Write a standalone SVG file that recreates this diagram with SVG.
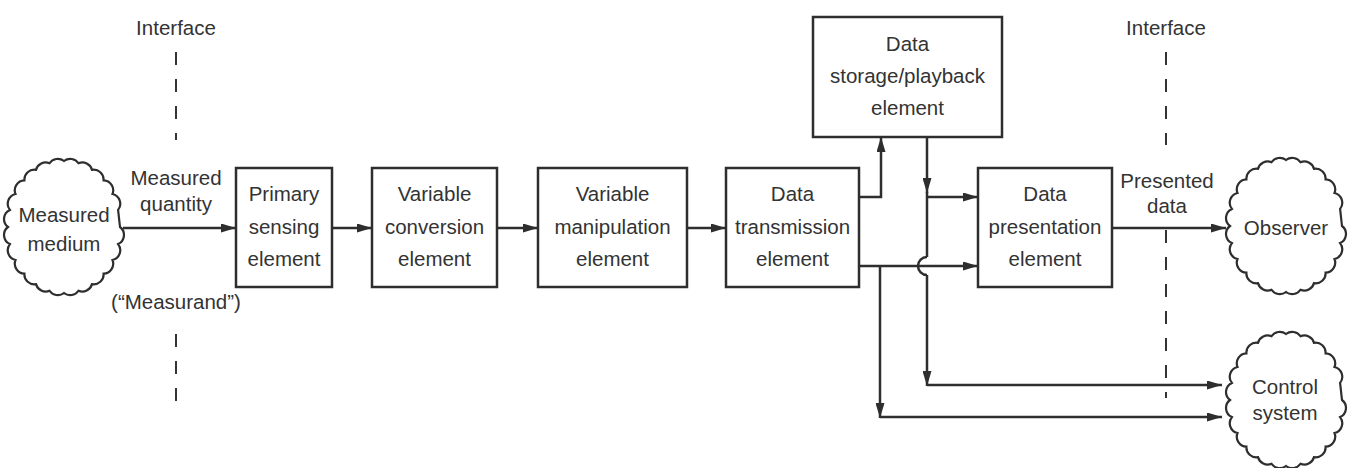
<svg xmlns="http://www.w3.org/2000/svg" xmlns:xlink="http://www.w3.org/1999/xlink" width="1353" height="468" viewBox="0 0 1353 468">
  <style>
    .box { fill: #ffffff; stroke: #2e2e2e; stroke-width: 2.5; }
    .cloud { fill: #ffffff; stroke: #2e2e2e; stroke-width: 2.2; }
    .lbl { font-family: "Liberation Sans", "DejaVu Sans", sans-serif; font-size: 20.5px; fill: #333333; text-anchor: middle; }
    .wire { fill: none; stroke: #2e2e2e; stroke-width: 2.5; }
    .arrow { fill: none; stroke: #2e2e2e; stroke-width: 2.5; marker-end: url(#head); }
    .iface { fill: none; stroke: #333333; stroke-width: 2; stroke-dasharray: 13 14; }
  </style>
  <defs>
    <marker id="head" viewBox="0 0 15 9" refX="15" refY="4.5" markerWidth="15" markerHeight="9" markerUnits="userSpaceOnUse" orient="auto">
      <path d="M0,0 L15,4.5 L0,9 Z" fill="#2e2e2e"/>
    </marker>
    <!-- scalloped outline around an ellipse, centred on the origin -->
    <path id="cloudShape" d="M56,0 A10,10 0 0 1 54.09,17.08 A10,10 0 0 1 48.5,33 A10,10 0 0 1 39.6,46.67 A10,10 0 0 1 28,57.16 A10,10 0 0 1 14.49,63.75 A10,10 0 0 1 0,66 A10,10 0 0 1 -14.49,63.75 A10,10 0 0 1 -28,57.16 A10,10 0 0 1 -39.6,46.67 A10,10 0 0 1 -48.5,33 A10,10 0 0 1 -54.09,17.08 A10,10 0 0 1 -56,0 A10,10 0 0 1 -54.09,-17.08 A10,10 0 0 1 -48.5,-33 A10,10 0 0 1 -39.6,-46.67 A10,10 0 0 1 -28,-57.16 A10,10 0 0 1 -14.49,-63.75 A10,10 0 0 1 0,-66 A10,10 0 0 1 14.49,-63.75 A10,10 0 0 1 28,-57.16 A10,10 0 0 1 39.6,-46.67 A10,10 0 0 1 48.5,-33 A10,10 0 0 1 54.09,-17.08 Z"/>
  </defs>

  <rect width="1353" height="468" fill="#ffffff"/>

  <!-- interface boundaries -->
  <g id="interfaces">
    <text class="lbl" x="176" y="35">Interface</text>
    <line class="iface" x1="176" y1="52" x2="176" y2="140"/>
    <line class="iface" x1="176" y1="334" x2="176" y2="410"/>
    <text class="lbl" x="1166" y="35">Interface</text>
    <line class="iface" x1="1166" y1="52" x2="1166" y2="145"/>
    <line class="iface" x1="1166" y1="230" x2="1166" y2="398"/>
  </g>

  <!-- connectors -->
  <g id="connectors">
    <line class="arrow" x1="123" y1="228" x2="236" y2="228"/>
    <line class="arrow" x1="332" y1="228" x2="372" y2="228"/>
    <line class="arrow" x1="497" y1="228" x2="538" y2="228"/>
    <line class="arrow" x1="687" y1="228" x2="726" y2="228"/>
    <!-- transmission to storage -->
    <polyline class="arrow" points="859,197 881,197 881,137"/>
    <!-- storage output -->
    <line class="arrow" x1="927" y1="137" x2="927" y2="193"/>
    <line class="wire" x1="927" y1="192" x2="927" y2="257"/>
    <line class="arrow" x1="927" y1="197" x2="978" y2="197"/>
    <path class="wire" d="M927,257 A9,9 0 0 0 927,275"/>
    <line class="arrow" x1="927" y1="275" x2="927" y2="386"/>
    <line class="arrow" x1="927" y1="385" x2="1222" y2="385"/>
    <!-- transmission direct outputs -->
    <line class="arrow" x1="859" y1="266" x2="978" y2="266"/>
    <line class="arrow" x1="880" y1="266" x2="880" y2="418"/>
    <line class="arrow" x1="880" y1="417" x2="1222" y2="417"/>
    <!-- presentation to observer -->
    <line class="arrow" x1="1112" y1="228" x2="1226" y2="228"/>
  </g>

  <g id="measured-medium">
    <use href="#cloudShape" class="cloud" transform="translate(64,227)"/>
    <text class="lbl" x="64" y="222">Measured</text>
    <text class="lbl" x="64" y="251">medium</text>
  </g>

  <g id="measured-quantity-label">
    <text class="lbl" x="176" y="185">Measured</text>
    <text class="lbl" x="176" y="211">quantity</text>
    <text class="lbl" x="176" y="309">(“Measurand”)</text>
  </g>

  <g id="primary-sensing">
    <rect class="box" x="236" y="168" width="96" height="119"/>
    <text class="lbl" x="284" y="201">Primary</text>
    <text class="lbl" x="284" y="234">sensing</text>
    <text class="lbl" x="284" y="266">element</text>
  </g>

  <g id="variable-conversion">
    <rect class="box" x="372" y="168" width="125" height="119"/>
    <text class="lbl" x="434.5" y="201">Variable</text>
    <text class="lbl" x="434.5" y="234">conversion</text>
    <text class="lbl" x="434.5" y="266">element</text>
  </g>

  <g id="variable-manipulation">
    <rect class="box" x="538" y="168" width="149" height="119"/>
    <text class="lbl" x="612.5" y="201">Variable</text>
    <text class="lbl" x="612.5" y="234">manipulation</text>
    <text class="lbl" x="612.5" y="266">element</text>
  </g>

  <g id="data-transmission">
    <rect class="box" x="726" y="168" width="133" height="119"/>
    <text class="lbl" x="792.5" y="201">Data</text>
    <text class="lbl" x="792.5" y="234">transmission</text>
    <text class="lbl" x="792.5" y="266">element</text>
  </g>

  <g id="data-storage">
    <rect class="box" x="813" y="17" width="189" height="120"/>
    <text class="lbl" x="907.5" y="51">Data</text>
    <text class="lbl" x="907.5" y="83">storage/playback</text>
    <text class="lbl" x="907.5" y="115">element</text>
  </g>

  <g id="data-presentation">
    <rect class="box" x="978" y="168" width="134" height="119"/>
    <text class="lbl" x="1045" y="201">Data</text>
    <text class="lbl" x="1045" y="234">presentation</text>
    <text class="lbl" x="1045" y="266">element</text>
  </g>

  <g id="presented-data-label">
    <text class="lbl" x="1167" y="188">Presented</text>
    <text class="lbl" x="1167" y="213">data</text>
  </g>

  <g id="observer">
    <use href="#cloudShape" class="cloud" transform="translate(1286,226)"/>
    <text class="lbl" x="1286" y="235">Observer</text>
  </g>

  <g id="control-system">
    <use href="#cloudShape" class="cloud" transform="translate(1286,400)"/>
    <text class="lbl" x="1285" y="394">Control</text>
    <text class="lbl" x="1285" y="420">system</text>
  </g>
</svg>
